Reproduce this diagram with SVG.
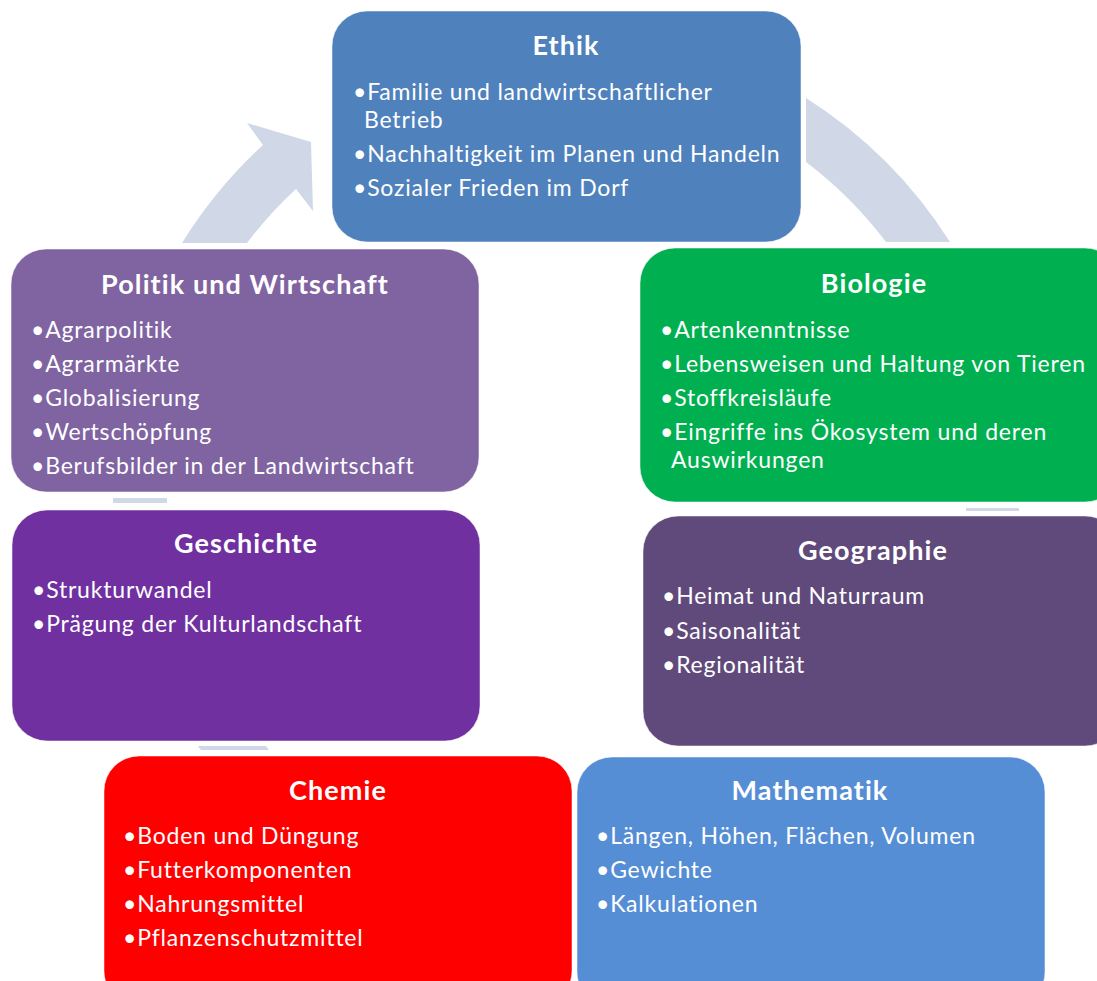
<svg xmlns="http://www.w3.org/2000/svg" width="1097" height="981" viewBox="0 0 1097 981">
<style>
.box{stroke:#ffffff;stroke-opacity:0.5;stroke-width:1}
.h{font-family:Lato,"Liberation Sans",sans-serif;font-weight:bold;font-size:27px;letter-spacing:1.1px;fill:#ffffff;text-anchor:middle}
.t{font-family:Lato,"Liberation Sans",sans-serif;font-size:23px;letter-spacing:0.8px;fill:#ffffff}
.arr{fill:#D0D8E8}
</style>
<rect width="1097" height="981" fill="#ffffff"/>
<g id="connectors">
<path class="arr" d="M 182 243 A 465 465 0 0 1 263 145 L 247 123 L 311 142 L 313 211 L 296 189 A 412 412 0 0 0 247 243 Z"/>
<path class="arr" d="M 806 98 A 465 465 0 0 1 950 242 L 886 242 A 412 412 0 0 0 806 162 Z"/>
<rect class="arr" x="113" y="498" width="54" height="5"/>
<rect class="arr" x="966" y="508" width="53" height="3"/>
<path class="arr" d="M 198 746 L 266 746 L 269 750 L 201 750 Z"/>
</g>
<g id="ethik">
<rect class="box" x="332" y="11" width="469" height="231" rx="35" fill="#4F81BD"/>
<text class="h" x="566" y="55">Ethik</text>
<text class="t" x="353" y="100">•Familie und landwirtschaftlicher</text>
<text class="t" x="364" y="128">Betrieb</text>
<text class="t" x="353" y="162">•Nachhaltigkeit im Planen und Handeln</text>
<text class="t" x="353" y="196">•Sozialer Frieden im Dorf</text>
</g>
<g id="politik">
<rect class="box" x="11" y="249" width="468" height="243" rx="35" fill="#8064A2"/>
<text class="h" x="245" y="294">Politik und Wirtschaft</text>
<text class="t" x="31" y="338">•Agrarpolitik</text>
<text class="t" x="31" y="372">•Agrarmärkte</text>
<text class="t" x="31" y="406">•Globalisierung</text>
<text class="t" x="31" y="440">•Wertschöpfung</text>
<text class="t" x="31" y="474">•Berufsbilder in der Landwirtschaft</text>
</g>
<g id="biologie">
<rect class="box" x="640" y="248" width="480" height="254" rx="35" fill="#00B050"/>
<text class="h" x="874" y="293">Biologie</text>
<text class="t" x="660" y="338">•Artenkenntnisse</text>
<text class="t" x="660" y="372">•Lebensweisen und Haltung von Tieren</text>
<text class="t" x="660" y="406">•Stoffkreisläufe</text>
<text class="t" x="660" y="440">•Eingriffe ins Ökosystem und deren</text>
<text class="t" x="671" y="468">Auswirkungen</text>
</g>
<g id="geschichte">
<rect class="box" x="12" y="510" width="468" height="231" rx="35" fill="#7030A0"/>
<text class="h" x="246" y="553">Geschichte</text>
<text class="t" x="32" y="598">•Strukturwandel</text>
<text class="t" x="32" y="632">•Prägung der Kulturlandschaft</text>
</g>
<g id="geographie">
<rect class="box" x="643" y="516" width="477" height="230" rx="35" fill="#604A7B"/>
<text class="h" x="873" y="560">Geographie</text>
<text class="t" x="662" y="604">•Heimat und Naturraum</text>
<text class="t" x="662" y="639">•Saisonalität</text>
<text class="t" x="662" y="673">•Regionalität</text>
</g>
<g id="chemie">
<rect class="box" x="104" y="756" width="468" height="250" rx="35" fill="#FF0000"/>
<text class="h" x="338" y="800">Chemie</text>
<text class="t" x="123" y="844">•Boden und Düngung</text>
<text class="t" x="123" y="878">•Futterkomponenten</text>
<text class="t" x="123" y="912">•Nahrungsmittel</text>
<text class="t" x="123" y="946">•Pflanzenschutzmittel</text>
</g>
<g id="mathematik">
<rect class="box" x="577" y="757" width="468" height="250" rx="35" fill="#558ED5"/>
<text class="h" x="810" y="800">Mathematik</text>
<text class="t" x="596" y="844">•Längen, Höhen, Flächen, Volumen</text>
<text class="t" x="596" y="878">•Gewichte</text>
<text class="t" x="596" y="912">•Kalkulationen</text>
</g>
</svg>
